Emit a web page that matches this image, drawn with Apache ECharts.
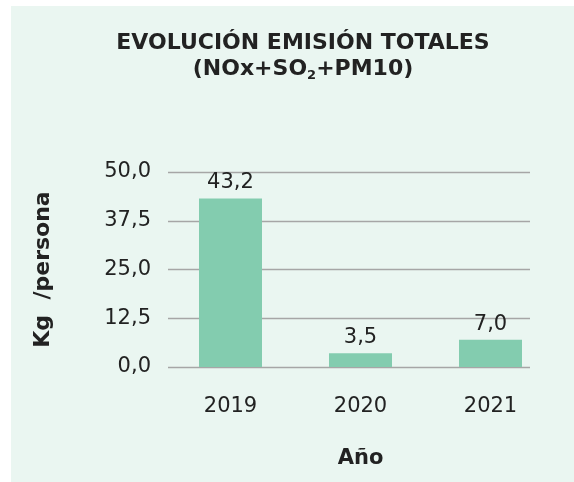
<!DOCTYPE html>
<html><head><meta charset="utf-8">
<script src="https://cdn.jsdelivr.net/npm/echarts@6/dist/echarts.min.js"></script>
<style>html,body{margin:0;padding:0;background:#fff}#c{width:574px;height:482px}</style>
</head><body><div id="c"></div>
<script>
var categories = ['2019', '2020', '2021'];
var values = [43.2, 3.5, 7.0];
var yTicks = [0, 12.5, 25, 37.5, 50];

var FONT = 'DejaVu Sans';
var fmt = function (v) { return v.toFixed(1).replace('.', ','); };
var chart = echarts.init(document.getElementById('c'));
chart.setOption({
  backgroundColor: '#ffffff',
  graphic: [{ type: 'rect', z: -10, shape: { x: 11, y: 6, width: 563, height: 476 }, style: { fill: '#eaf6f1' } }],
  title: {
    left: 298, top: 25, textAlign: 'center',
    text: '{a|EVOLUCIÓN EMISIÓN TOTALES}\n{a|(NOx+SO}{s|2}{a|+PM10)}',
    textStyle: {
      rich: {
        a: { fontFamily: FONT, fontWeight: 'bold', fontSize: 22, color: '#222', lineHeight: 26 },
        s: { fontFamily: FONT, fontWeight: 'bold', fontSize: 13, color: '#222', lineHeight: 26, verticalAlign: 'bottom', padding: [11, 0, 0, 0] }
      }
    }
  },
  grid: [
    { left: 168, right: 44, top: 172, bottom: 115 },
    { left: 165.5, right: 18.5, top: 172, bottom: 115 }
  ],
  xAxis: [
    { gridIndex: 0, type: 'category', data: categories, show: false },
    { gridIndex: 1, type: 'category', data: categories,
      axisLine: { show: false }, axisTick: { show: false },
      axisLabel: { fontFamily: FONT, fontSize: 21, color: '#222', margin: 29 },
      name: 'Año', nameLocation: 'middle', nameGap: 81,
      nameTextStyle: { fontFamily: FONT, fontWeight: 'bold', fontSize: 21, color: '#222' } },
  ],
  yAxis: [
    { gridIndex: 0, type: 'value', min: 0, max: 50, interval: 12.5,
      axisLine: { show: false }, axisTick: { show: false },
      splitLine: { lineStyle: { color: '#a6a6a6', width: 1.3 } },
      axisLabel: { fontFamily: FONT, fontSize: 21, color: '#222', margin: 17, formatter: function (v) { return fmt(v); } },
      name: 'Kg  /persona', nameLocation: 'middle', nameGap: 114, nameRotate: 90,
      nameTextStyle: { fontFamily: FONT, fontWeight: 'bold', fontSize: 22, color: '#222' } },
    { gridIndex: 1, type: 'value', min: 0, max: 50, interval: 12.5, show: false, splitLine: { show: false } }
  ],
  series: [{
    type: 'bar', xAxisIndex: 1, yAxisIndex: 1, data: values, barWidth: 63,
    itemStyle: { color: '#83ccaf' },
    label: { show: true, position: 'top', distance: 5, fontFamily: FONT, fontSize: 21, color: '#222',
      formatter: function (p) { return fmt(p.value); } }
  }]
});
</script></body></html>
